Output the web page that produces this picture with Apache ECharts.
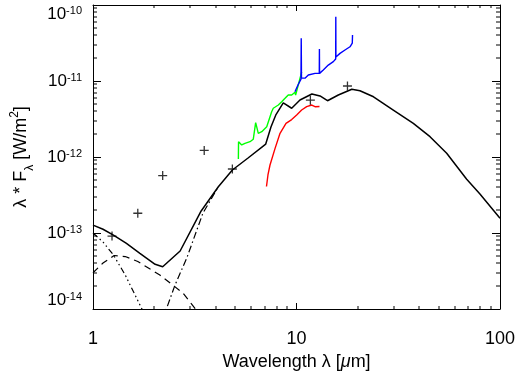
<!DOCTYPE html>
<html>
<head>
<meta charset="utf-8">
<script src="https://cdn.jsdelivr.net/npm/echarts@6/dist/echarts.min.js"></script>
<style>
  html, body { margin: 0; padding: 0; background: #fff; }
  #chart { width: 518px; height: 381px; }
</style>
</head>
<body>
<div id="chart"></div>
<script>
// photometry points (+)
const photWave = [1.24, 1.66, 2.20, 3.52, 4.84, 11.7, 17.8];
const photFlux = [9.1e-14, 1.82e-13, 5.7e-13, 1.22e-12, 6.95e-13, 5.6e-12, 8.6e-12];

// total model (solid)
const modelWave = [1.00, 1.12, 1.26, 1.46, 1.70, 2.02, 2.20, 2.68, 3.40, 4.13, 4.84, 5.78, 7.06, 7.49, 7.93, 8.61,
  9.47, 10.4, 11.9, 13.05, 14.2, 16.05, 18.7, 20.5, 23.9, 29.9, 37.5, 45.3, 54.7, 68.6, 79.7, 100];
const modelFlux = [1.27e-13, 1.12e-13, 9.4e-14, 7.3e-14, 5.4e-14, 3.87e-14, 3.6e-14, 5.8e-14, 1.95e-13, 4.06e-13,
  6.75e-13, 9.7e-13, 1.48e-12, 2.48e-12, 3.62e-12, 5.14e-12, 4.38e-12, 5.62e-12, 6.75e-12, 6.35e-12, 5.5e-12,
  6.55e-12, 7.78e-12, 7.45e-12, 6.2e-12, 4.15e-12, 2.77e-12, 1.85e-12, 1.12e-12, 5.1e-13, 3.25e-13, 1.56e-13];

// components
const starWave = [1.00, 1.12, 1.26, 1.44, 1.74, 1.85];
const starFlux = [1.0e-13, 7.6e-14, 5.14e-14, 2.8e-14, 1.0e-14, 7e-15];
const warmWave = [1.00, 1.12, 1.27, 1.44, 1.66, 2.13, 2.77, 3.17, 3.45];
const warmFlux = [3.0e-14, 4.03e-14, 5.06e-14, 4.9e-14, 4.22e-14, 2.8e-14, 1.62e-14, 1.02e-14, 7.5e-15];
const dustWave = [2.20, 2.30, 2.53, 2.89, 3.47, 4.13];
const dustFlux = [7.2e-15, 1.02e-14, 2.07e-14, 4.69e-14, 1.83e-13, 4.06e-13];

// spectra
const greenWave = [5.18, 5.19, 5.38, 5.58, 5.91, 6.13, 6.30, 6.49, 6.75, 7.14, 7.55, 7.69, 8.14, 8.46, 8.78,
  9.11, 9.47, 9.83, 9.90, 10.2, 10.6];
const greenFlux = [9.4e-13, 1.59e-12, 1.44e-12, 1.51e-12, 1.59e-12, 1.71e-12, 2.83e-12, 2.05e-12, 2.15e-12, 2.5e-12,
  3.94e-12, 4.38e-12, 4.83e-12, 5.34e-12, 5.91e-12, 6.55e-12, 6.55e-12, 7.1e-12, 6.55e-12, 8.85e-12, 1.31e-11];
const blueWave = [9.83, 10.17, 10.52, 10.55, 10.58, 11.01, 11.43, 12.33, 12.94, 12.96, 12.98, 13.54, 14.33, 15.17,
  15.58, 15.60, 15.62, 16.36, 17.31, 18.32, 18.80, 18.85];
const blueFlux = [7.22e-12, 8.85e-12, 1.06e-11, 3.65e-11, 1.09e-11, 1.09e-11, 1.2e-11, 1.26e-11, 1.26e-11, 2.64e-11,
  1.26e-11, 1.4e-11, 1.62e-11, 1.8e-11, 1.95e-11, 7.0e-11, 2.07e-11, 2.31e-11, 2.56e-11, 2.82e-11, 3.16e-11, 4.03e-11];
const redWave = [7.12, 7.24, 7.41, 7.84, 8.30, 8.88, 9.47, 10.02, 10.6, 11.22, 11.88, 12.33, 12.61, 12.97];
const redFlux = [4.09e-13, 5.8e-13, 7.85e-13, 1.29e-12, 2.05e-12, 2.77e-12, 3.11e-12, 3.57e-12, 4.15e-12, 4.59e-12,
  4.83e-12, 4.59e-12, 4.48e-12, 4.61e-12];

// axes
const xMin = 1, xMax = 100;
const yMin = 1e-14, yMax = 1e-10;
const xDecades = [1, 10];
const yDecades = [1e-14, 1e-13, 1e-12, 1e-11];
const minorSteps = [2, 3, 4, 5, 6, 7, 8, 9];

const FONT = "'Liberation Sans', Arial, Helvetica, sans-serif";

function zip(a, b) { return a.map((v, i) => [v, b[i]]); }

const xMinor = [];
xDecades.forEach(d => minorSteps.forEach(k => xMinor.push(k * d)));
const yMinor = [];
yDecades.forEach(d => minorSteps.forEach(k => yMinor.push(k * d)));

const chart = echarts.init(document.getElementById('chart'));

// small filled bar used as a minor tick
function bar(x, y, w, h) {
  return { type: 'rect', shape: { x: x, y: y, width: w, height: h }, style: { fill: '#000' } };
}

function lineSeries(wave, flux, color, width, type) {
  return {
    type: 'line',
    data: zip(wave, flux),
    showSymbol: false,
    symbol: 'none',
    clip: true,
    lineStyle: { color: color, width: width, type: type || 'solid' },
    z: 3
  };
}

function axisTick(len) {
  return { show: true, inside: true, length: len, lineStyle: { color: '#000', width: 1 } };
}

const axisLine = { show: true, lineStyle: { color: '#000', width: 1 } };

const option = {
  animation: false,
  backgroundColor: '#fff',
  grid: { left: 93, right: 18, top: 5, bottom: 72, outerBoundsMode: 'none' },
  xAxis: [
    {
      type: 'log', position: 'bottom', min: xMin, max: xMax,
      axisLine: axisLine, splitLine: { show: false }, axisTick: axisTick(6),
      axisLabel: { color: '#000', fontFamily: FONT, fontSize: 18, margin: 21 },
      name: '{n|Wavelength λ [}{i|μ}{n|m]}',
      nameLocation: 'middle',
      nameGap: 42,
      nameTextStyle: {
        color: '#000',
        rich: {
          n: { fontFamily: FONT, fontSize: 18, color: '#000' },
          i: { fontFamily: FONT, fontSize: 18, fontStyle: 'italic', color: '#000' }
        }
      }
    },
    {
      type: 'log', position: 'top', min: xMin, max: xMax,
      axisLine: axisLine, splitLine: { show: false }, axisTick: axisTick(6),
      axisLabel: { show: false }
    }
  ],
  yAxis: [
    {
      type: 'log', position: 'left', min: yMin, max: yMax,
      axisLine: axisLine, splitLine: { show: false }, axisTick: axisTick(8),
      axisLabel: {
        margin: 11,
        verticalAlignMaxLabel: 'top',
        verticalAlignMinLabel: 'bottom',
        formatter: function (v) {
          return '{b|10}{s|' + Math.round(Math.log10(v)) + '}';
        },
        rich: {
          b: { fontFamily: FONT, fontSize: 17, color: '#000', lineHeight: 18, verticalAlign: 'bottom', padding: [6, 0, 0, 0] },
          s: { fontFamily: FONT, fontSize: 11, color: '#000', lineHeight: 12, verticalAlign: 'top' }
        }
      },
      name: '{n|λ * F}{sub|λ}{n| [W/m}{sup|2}{n|]}',
      nameLocation: 'middle',
      nameRotate: 90,
      nameGap: 66,
      nameTextStyle: {
        rich: {
          n: { fontFamily: FONT, fontSize: 18, color: '#000', lineHeight: 20, verticalAlign: 'top', padding: [6, 0, 6, 0] },
          sub: { fontFamily: FONT, fontSize: 12, color: '#000', lineHeight: 12, verticalAlign: 'top', padding: [17, 0, 0, 0] },
          sup: { fontFamily: FONT, fontSize: 12, color: '#000', lineHeight: 12, verticalAlign: 'top', padding: [2, 0, 0, 0] }
        }
      }
    },
    {
      type: 'log', position: 'right', min: yMin, max: yMax,
      axisLine: axisLine, splitLine: { show: false }, axisTick: axisTick(8),
      axisLabel: { show: false }
    }
  ],
  series: [
    // minor ticks on the log axes (2..9 of each decade)
    {
      type: 'custom',
      silent: true,
      data: xMinor.map(v => [v, 1e-12]),
      renderItem: function (params, api) {
        const bottom = api.coord([api.value(0), yMin]);
        const top = api.coord([api.value(0), yMax]);
        const x = Math.round(bottom[0]) - 0.5;
        return {
          type: 'group',
          children: [bar(x, bottom[1] - 3, 1, 3), bar(x, top[1], 1, 3)]
        };
      },
      z: 5
    },
    {
      type: 'custom',
      silent: true,
      data: yMinor.map(v => [3, v]),
      renderItem: function (params, api) {
        const left = api.coord([xMin, api.value(1)]);
        const right = api.coord([xMax, api.value(1)]);
        const y = Math.round(left[1]) - 0.5;
        return {
          type: 'group',
          children: [bar(left[0], y, 4, 1), bar(right[0] - 4, y, 4, 1)]
        };
      },
      z: 5
    },
    lineSeries(modelWave, modelFlux, '#000', 1.5),
    lineSeries(starWave, starFlux, '#000', 1.2, [6, 3, 1.5, 3, 1.5, 3, 1.5, 3]),
    lineSeries(warmWave, warmFlux, '#000', 1.2, [7, 5]),
    lineSeries(dustWave, dustFlux, '#000', 1.2, [7, 3, 1.5, 3]),
    lineSeries(greenWave, greenFlux, '#00ff00', 1.4),
    lineSeries(redWave, redFlux, '#ff0000', 1.4),
    lineSeries(blueWave, blueFlux, '#0000ff', 1.4),
    {
      type: 'scatter',
      data: zip(photWave, photFlux),
      symbol: 'path://M0,5L10,5M5,0L5,10',
      symbolSize: 9,
      itemStyle: { color: 'transparent', borderColor: '#000', borderWidth: 1.3 },
      z: 4
    }
  ]
};

chart.setOption(option);
</script>
</body>
</html>
